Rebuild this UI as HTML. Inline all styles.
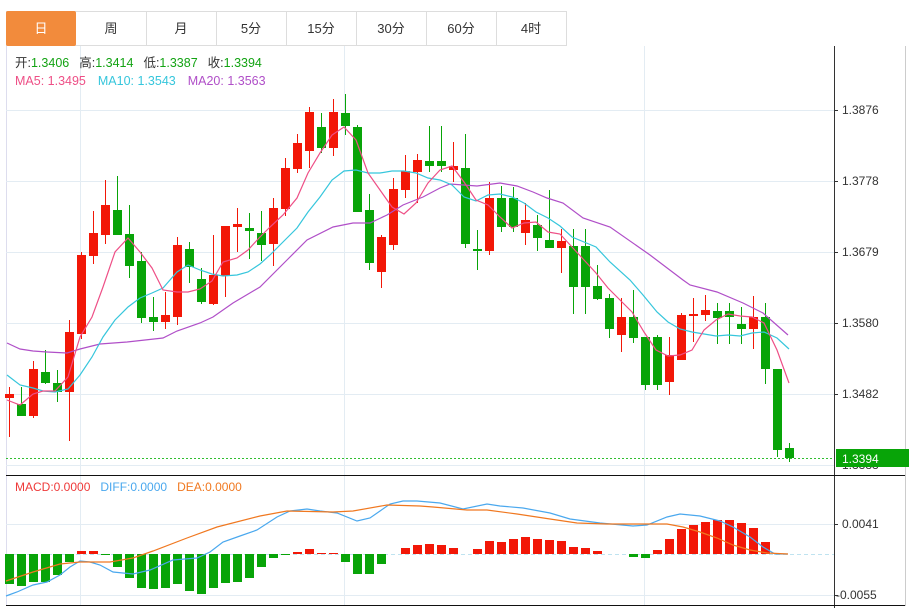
<!DOCTYPE html>
<html><head><meta charset="utf-8"><style>
body{margin:0;background:#fff;width:909px;height:608px;overflow:hidden;font-family:"Liberation Sans","Noto Sans CJK SC",sans-serif}
</style></head><body>
<svg width="909" height="608" xmlns="http://www.w3.org/2000/svg" style="position:absolute;left:0;top:0;font-family:'Liberation Sans','Noto Sans CJK SC',sans-serif">
<!-- tabs -->
<rect x="6.5" y="11.5" width="560" height="34" fill="#fff" stroke="#ddd"/>
<rect x="6" y="11" width="70" height="35" fill="#f28b3c" rx="2"/>
<g stroke="#ddd"><line x1="146.5" y1="11" x2="146.5" y2="45"/><line x1="216.5" y1="11" x2="216.5" y2="45"/><line x1="286.5" y1="11" x2="286.5" y2="45"/><line x1="356.5" y1="11" x2="356.5" y2="45"/><line x1="426.5" y1="11" x2="426.5" y2="45"/><line x1="496.5" y1="11" x2="496.5" y2="45"/></g>
<g font-size="13" text-anchor="middle" fill="#333"><text x="41" y="33" fill="#fff">日</text><text x="111" y="33">周</text><text x="181" y="33">月</text><text x="251" y="33">5分</text><text x="321" y="33">15分</text><text x="391" y="33">30分</text><text x="461" y="33">60分</text><text x="531" y="33">4时</text></g>
<!-- frame -->
<line x1="6.5" y1="46" x2="6.5" y2="606" stroke="#dde"/>
<line x1="905.5" y1="46" x2="905.5" y2="606" stroke="#ccc"/>
<!-- grids -->
<g stroke="#e3ecf3"><line x1="6" y1="110.5" x2="834" y2="110.5"/><line x1="6" y1="181.5" x2="834" y2="181.5"/><line x1="6" y1="252.5" x2="834" y2="252.5"/><line x1="6" y1="323.5" x2="834" y2="323.5"/><line x1="6" y1="394.5" x2="834" y2="394.5"/><line x1="6" y1="465.5" x2="834" y2="465.5"/><line x1="6" y1="524.5" x2="834" y2="524.5"/><line x1="6" y1="595.5" x2="834" y2="595.5"/>
<line x1="80.5" y1="46" x2="80.5" y2="606"/><line x1="344.5" y1="46" x2="344.5" y2="606"/><line x1="644.5" y1="46" x2="644.5" y2="606"/></g>
<line x1="834.5" y1="46" x2="834.5" y2="608" stroke="#333"/>
<line x1="6" y1="475.5" x2="905" y2="475.5" stroke="#111"/>
<line x1="6" y1="605.5" x2="905" y2="605.5" stroke="#111"/>
<!-- axis labels -->
<g font-size="12" fill="#333"><text x="842" y="114">1.3876</text><text x="842" y="185">1.3778</text><text x="842" y="256">1.3679</text><text x="842" y="327">1.3580</text><text x="842" y="398">1.3482</text><text x="842" y="469">1.3383</text><text x="842" y="528">0.0041</text><text x="836" y="599">-0.0055</text></g>
<g stroke="#333"><line x1="834" y1="110.5" x2="838" y2="110.5"/><line x1="834" y1="181.5" x2="838" y2="181.5"/><line x1="834" y1="252.5" x2="838" y2="252.5"/><line x1="834" y1="323.5" x2="838" y2="323.5"/><line x1="834" y1="394.5" x2="838" y2="394.5"/><line x1="834" y1="524.5" x2="838" y2="524.5"/><line x1="834" y1="595.5" x2="838" y2="595.5"/></g>
<!-- legend -->
<text x="15" y="67" font-size="12.5"><tspan fill="#333">开:</tspan><tspan fill="#13a313">1.3406</tspan><tspan fill="#333" dx="10">高:</tspan><tspan fill="#13a313">1.3414</tspan><tspan fill="#333" dx="10">低:</tspan><tspan fill="#13a313">1.3387</tspan><tspan fill="#333" dx="10">收:</tspan><tspan fill="#13a313">1.3394</tspan></text>
<text x="15" y="85" font-size="12.5"><tspan fill="#ee4f86">MA5: 1.3495</tspan><tspan fill="#36c6dc" dx="12">MA10: 1.3543</tspan><tspan fill="#b04fc8" dx="12">MA20: 1.3563</tspan></text>
<text x="15" y="491" font-size="12"><tspan fill="#ee3a3a">MACD:0.0000</tspan><tspan fill="#4aa8ee" dx="10">DIFF:0.0000</tspan><tspan fill="#f07820" dx="10">DEA:0.0000</tspan></text>
<!-- candles -->
<g id="c"></g>
<g>
<g stroke-width="1">
<line x1="9.5" y1="387" x2="9.5" y2="437" stroke="#f21707"/><rect x="5" y="394" width="9" height="4" fill="#f21707"/>
<line x1="21.5" y1="387" x2="21.5" y2="416" stroke="#08a408"/><rect x="17" y="404" width="9" height="12" fill="#08a408"/>
<line x1="33.5" y1="361" x2="33.5" y2="418" stroke="#f21707"/><rect x="29" y="369" width="9" height="47" fill="#f21707"/>
<line x1="45.5" y1="350" x2="45.5" y2="384" stroke="#08a408"/><rect x="41" y="372" width="9" height="11" fill="#08a408"/>
<line x1="57.5" y1="370" x2="57.5" y2="402" stroke="#08a408"/><rect x="53" y="383" width="9" height="9" fill="#08a408"/>
<line x1="69.5" y1="320" x2="69.5" y2="441" stroke="#f21707"/><rect x="65" y="332" width="9" height="60" fill="#f21707"/>
<line x1="81.5" y1="252" x2="81.5" y2="339" stroke="#f21707"/><rect x="77" y="255" width="9" height="79" fill="#f21707"/>
<line x1="93.5" y1="211" x2="93.5" y2="264" stroke="#f21707"/><rect x="89" y="233" width="9" height="23" fill="#f21707"/>
<line x1="105.5" y1="180" x2="105.5" y2="244" stroke="#f21707"/><rect x="101" y="205" width="9" height="30" fill="#f21707"/>
<line x1="117.5" y1="176" x2="117.5" y2="235" stroke="#08a408"/><rect x="113" y="210" width="9" height="25" fill="#08a408"/>
<line x1="129.5" y1="205" x2="129.5" y2="278" stroke="#08a408"/><rect x="125" y="234" width="9" height="32" fill="#08a408"/>
<line x1="141.5" y1="252" x2="141.5" y2="323" stroke="#08a408"/><rect x="137" y="261" width="9" height="57" fill="#08a408"/>
<line x1="153.5" y1="297" x2="153.5" y2="331" stroke="#08a408"/><rect x="149" y="317" width="9" height="5" fill="#08a408"/>
<line x1="165.5" y1="292" x2="165.5" y2="329" stroke="#f21707"/><rect x="161" y="315" width="9" height="7" fill="#f21707"/>
<line x1="177.5" y1="237" x2="177.5" y2="325" stroke="#f21707"/><rect x="173" y="245" width="9" height="72" fill="#f21707"/>
<line x1="189.5" y1="242" x2="189.5" y2="283" stroke="#08a408"/><rect x="185" y="249" width="9" height="18" fill="#08a408"/>
<line x1="201.5" y1="268" x2="201.5" y2="304" stroke="#08a408"/><rect x="197" y="279" width="9" height="23" fill="#08a408"/>
<line x1="213.5" y1="235" x2="213.5" y2="305" stroke="#f21707"/><rect x="209" y="275" width="9" height="29" fill="#f21707"/>
<line x1="225.5" y1="226" x2="225.5" y2="297" stroke="#f21707"/><rect x="221" y="226" width="9" height="50" fill="#f21707"/>
<line x1="237.5" y1="208" x2="237.5" y2="252" stroke="#f21707"/><rect x="233" y="224" width="9" height="3" fill="#f21707"/>
<line x1="249.5" y1="213" x2="249.5" y2="259" stroke="#08a408"/><rect x="245" y="228" width="9" height="3" fill="#08a408"/>
<line x1="261.5" y1="211" x2="261.5" y2="261" stroke="#08a408"/><rect x="257" y="233" width="9" height="12" fill="#08a408"/>
<line x1="273.5" y1="198" x2="273.5" y2="266" stroke="#f21707"/><rect x="269" y="208" width="9" height="36" fill="#f21707"/>
<line x1="285.5" y1="158" x2="285.5" y2="216" stroke="#f21707"/><rect x="281" y="168" width="9" height="41" fill="#f21707"/>
<line x1="297.5" y1="134" x2="297.5" y2="173" stroke="#f21707"/><rect x="293" y="143" width="9" height="26" fill="#f21707"/>
<line x1="309.5" y1="107" x2="309.5" y2="168" stroke="#f21707"/><rect x="305" y="112" width="9" height="39" fill="#f21707"/>
<line x1="321.5" y1="113" x2="321.5" y2="153" stroke="#08a408"/><rect x="317" y="127" width="9" height="21" fill="#08a408"/>
<line x1="333.5" y1="99" x2="333.5" y2="156" stroke="#f21707"/><rect x="329" y="112" width="9" height="36" fill="#f21707"/>
<line x1="345.5" y1="94" x2="345.5" y2="135" stroke="#08a408"/><rect x="341" y="113" width="9" height="13" fill="#08a408"/>
<line x1="357.5" y1="125" x2="357.5" y2="212" stroke="#08a408"/><rect x="353" y="127" width="9" height="85" fill="#08a408"/>
<line x1="369.5" y1="194" x2="369.5" y2="270" stroke="#08a408"/><rect x="365" y="210" width="9" height="53" fill="#08a408"/>
<line x1="381.5" y1="235" x2="381.5" y2="288" stroke="#f21707"/><rect x="377" y="237" width="9" height="35" fill="#f21707"/>
<line x1="393.5" y1="178" x2="393.5" y2="250" stroke="#f21707"/><rect x="389" y="189" width="9" height="56" fill="#f21707"/>
<line x1="405.5" y1="155" x2="405.5" y2="198" stroke="#f21707"/><rect x="401" y="171" width="9" height="19" fill="#f21707"/>
<line x1="417.5" y1="154" x2="417.5" y2="203" stroke="#f21707"/><rect x="413" y="160" width="9" height="12" fill="#f21707"/>
<line x1="429.5" y1="126" x2="429.5" y2="172" stroke="#08a408"/><rect x="425" y="161" width="9" height="5" fill="#08a408"/>
<line x1="441.5" y1="126" x2="441.5" y2="172" stroke="#08a408"/><rect x="437" y="161" width="9" height="5" fill="#08a408"/>
<line x1="453.5" y1="142" x2="453.5" y2="182" stroke="#f21707"/><rect x="449" y="166" width="9" height="4" fill="#f21707"/>
<line x1="465.5" y1="134" x2="465.5" y2="248" stroke="#08a408"/><rect x="461" y="168" width="9" height="76" fill="#08a408"/>
<line x1="477.5" y1="230" x2="477.5" y2="270" stroke="#08a408"/><rect x="473" y="249" width="9" height="2" fill="#08a408"/>
<line x1="489.5" y1="182" x2="489.5" y2="255" stroke="#f21707"/><rect x="485" y="198" width="9" height="53" fill="#f21707"/>
<line x1="501.5" y1="186" x2="501.5" y2="232" stroke="#08a408"/><rect x="497" y="198" width="9" height="29" fill="#08a408"/>
<line x1="513.5" y1="187" x2="513.5" y2="232" stroke="#08a408"/><rect x="509" y="198" width="9" height="29" fill="#08a408"/>
<line x1="525.5" y1="203" x2="525.5" y2="245" stroke="#f21707"/><rect x="521" y="220" width="9" height="13" fill="#f21707"/>
<line x1="537.5" y1="215" x2="537.5" y2="251" stroke="#08a408"/><rect x="533" y="225" width="9" height="13" fill="#08a408"/>
<line x1="549.5" y1="190" x2="549.5" y2="248" stroke="#08a408"/><rect x="545" y="240" width="9" height="8" fill="#08a408"/>
<line x1="561.5" y1="229" x2="561.5" y2="273" stroke="#f21707"/><rect x="557" y="241" width="9" height="7" fill="#f21707"/>
<line x1="573.5" y1="229" x2="573.5" y2="314" stroke="#08a408"/><rect x="569" y="246" width="9" height="41" fill="#08a408"/>
<line x1="585.5" y1="229" x2="585.5" y2="314" stroke="#08a408"/><rect x="581" y="246" width="9" height="41" fill="#08a408"/>
<line x1="597.5" y1="265" x2="597.5" y2="300" stroke="#08a408"/><rect x="593" y="286" width="9" height="13" fill="#08a408"/>
<line x1="609.5" y1="294" x2="609.5" y2="338" stroke="#08a408"/><rect x="605" y="298" width="9" height="31" fill="#08a408"/>
<line x1="621.5" y1="298" x2="621.5" y2="352" stroke="#f21707"/><rect x="617" y="317" width="9" height="18" fill="#f21707"/>
<line x1="633.5" y1="290" x2="633.5" y2="343" stroke="#08a408"/><rect x="629" y="317" width="9" height="21" fill="#08a408"/>
<line x1="645.5" y1="337" x2="645.5" y2="390" stroke="#08a408"/><rect x="641" y="337" width="9" height="48" fill="#08a408"/>
<line x1="657.5" y1="335" x2="657.5" y2="390" stroke="#08a408"/><rect x="653" y="337" width="9" height="48" fill="#08a408"/>
<line x1="669.5" y1="337" x2="669.5" y2="395" stroke="#f21707"/><rect x="665" y="355" width="9" height="27" fill="#f21707"/>
<line x1="681.5" y1="313" x2="681.5" y2="360" stroke="#f21707"/><rect x="677" y="315" width="9" height="45" fill="#f21707"/>
<line x1="693.5" y1="298" x2="693.5" y2="342" stroke="#f21707"/><rect x="689" y="314" width="9" height="2" fill="#f21707"/>
<line x1="705.5" y1="295" x2="705.5" y2="321" stroke="#f21707"/><rect x="701" y="310" width="9" height="5" fill="#f21707"/>
<line x1="717.5" y1="303" x2="717.5" y2="344" stroke="#08a408"/><rect x="713" y="311" width="9" height="7" fill="#08a408"/>
<line x1="729.5" y1="303" x2="729.5" y2="344" stroke="#08a408"/><rect x="725" y="311" width="9" height="6" fill="#08a408"/>
<line x1="741.5" y1="307" x2="741.5" y2="344" stroke="#08a408"/><rect x="737" y="324" width="9" height="5" fill="#08a408"/>
<line x1="753.5" y1="296" x2="753.5" y2="349" stroke="#f21707"/><rect x="749" y="317" width="9" height="12" fill="#f21707"/>
<line x1="765.5" y1="303" x2="765.5" y2="384" stroke="#08a408"/><rect x="761" y="317" width="9" height="52" fill="#08a408"/>
<line x1="777.5" y1="369" x2="777.5" y2="457" stroke="#08a408"/><rect x="773" y="369" width="9" height="81" fill="#08a408"/>
<line x1="789.5" y1="443" x2="789.5" y2="462" stroke="#08a408"/><rect x="785" y="448" width="9" height="10" fill="#08a408"/>
</g>
<!-- MAs -->
<g fill="none" stroke-width="1.2">
<polyline stroke="#b04fc8" points="7,343 20,349 33,351 47,352 67,353 80,349 100,344 127,342 163,338 177,331 200,323 213,317 233,303 260,287 280,267 287,260 307,240 333,227 353,223 370,223 387,215 403,205 423,197 440,188 450,184 477,186 500,183 517,186 533,192 547,198 563,203 583,218 610,227 650,255 683,280 690,285 717,292 743,303 763,313 788,335"/>
<polyline stroke="#36c6dc" points="7,375 20,385 33,388 43,391 55,392 68,389 80,375 92,357 103,337 115,320 128,307 140,298 152,293 163,288 177,272 188,265 200,270 212,274 223,276 237,275 248,272 260,264 270,255 283,242 297,228 308,212 320,197 332,180 344,171 356,170 368,173 380,173 392,171 404,171 416,173 428,178 440,180 452,185 464,197 476,201 488,195 500,194 512,197 524,203 536,212 548,218 560,226 572,237 584,242 596,247 610,262 630,280 643,295 657,312 668,322 680,329 692,332 704,334 716,336 728,335 740,336 752,333 764,332 777,338 789,349"/>
<polyline stroke="#ee4f86" points="7,400 20,405 33,394 43,391 55,391 68,377 80,337 92,317 103,287 115,252 128,238 140,252 152,268 163,290 177,292 188,292 200,289 212,281 223,262 237,258 248,250 260,237 270,227 283,215 297,198 308,173 320,153 332,135 344,127 356,140 368,173 380,190 392,207 404,214 416,203 428,183 440,170 452,166 464,182 476,200 488,205 500,217 512,228 524,223 536,222 548,232 560,234 572,247 584,260 596,273 608,288 620,300 632,312 644,332 656,350 668,356 680,355 692,350 704,330 716,320 728,314 740,316 752,317 764,323 777,350 789,383"/>
</g>
<!-- price line -->
<line x1="6" y1="458.5" x2="834" y2="458.5" stroke="#2fbf2f" stroke-dasharray="2,2"/>
<rect x="836" y="449" width="76" height="18" fill="#08a408"/>
<text x="842" y="463" font-size="12" fill="#fff">1.3394</text>
<!-- MACD -->
<line x1="6" y1="554.5" x2="834" y2="554.5" stroke="#bfe3f0" stroke-dasharray="4,3"/>
<g fill="#08a408">
<rect x="5" y="554" width="9" height="30"/><rect x="17" y="554" width="9" height="32"/><rect x="29" y="554" width="9" height="28"/><rect x="41" y="554" width="9" height="28"/><rect x="53" y="554" width="9" height="21"/><rect x="65" y="554" width="9" height="8"/>
<rect x="101" y="554" width="9" height="1"/><rect x="113" y="554" width="9" height="13"/><rect x="125" y="554" width="9" height="24"/><rect x="137" y="554" width="9" height="34"/><rect x="149" y="554" width="9" height="35"/><rect x="161" y="554" width="9" height="34"/><rect x="173" y="554" width="9" height="30"/><rect x="185" y="554" width="9" height="37"/><rect x="197" y="554" width="9" height="40"/><rect x="209" y="554" width="9" height="34"/><rect x="221" y="554" width="9" height="29"/><rect x="233" y="554" width="9" height="28"/><rect x="245" y="554" width="9" height="24"/><rect x="257" y="554" width="9" height="13"/><rect x="269" y="554" width="9" height="4"/><rect x="281" y="554" width="9" height="1"/>
<rect x="341" y="554" width="9" height="8"/><rect x="353" y="554" width="9" height="20"/><rect x="365" y="554" width="9" height="20"/><rect x="377" y="554" width="9" height="10"/>
<rect x="629" y="554" width="9" height="3"/><rect x="641" y="554" width="9" height="4"/>
</g>
<g fill="#f21707">
<rect x="77" y="551" width="9" height="3"/><rect x="89" y="551" width="9" height="3"/>
<rect x="293" y="552" width="9" height="2"/><rect x="305" y="549" width="9" height="5"/><rect x="317" y="553" width="9" height="1"/><rect x="329" y="553" width="9" height="1"/>
<rect x="401" y="548" width="9" height="6"/><rect x="413" y="545" width="9" height="9"/><rect x="425" y="544" width="9" height="10"/><rect x="437" y="545" width="9" height="9"/><rect x="449" y="548" width="9" height="6"/>
<rect x="473" y="549" width="9" height="5"/><rect x="485" y="541" width="9" height="13"/><rect x="497" y="542" width="9" height="12"/><rect x="509" y="539" width="9" height="15"/><rect x="521" y="537" width="9" height="17"/><rect x="533" y="539" width="9" height="15"/><rect x="545" y="540" width="9" height="14"/><rect x="557" y="541" width="9" height="13"/><rect x="569" y="547" width="9" height="7"/><rect x="581" y="548" width="9" height="6"/><rect x="593" y="551" width="9" height="3"/>
<rect x="653" y="550" width="9" height="4"/><rect x="665" y="539" width="9" height="15"/><rect x="677" y="529" width="9" height="25"/><rect x="689" y="525" width="9" height="29"/><rect x="701" y="522" width="9" height="32"/><rect x="713" y="520" width="9" height="34"/><rect x="725" y="520" width="9" height="34"/><rect x="737" y="523" width="9" height="31"/><rect x="749" y="528" width="9" height="26"/><rect x="761" y="542" width="9" height="12"/>
</g>
<g fill="none" stroke-width="1.2">
<polyline stroke="#4aa8ee" points="6,596 17,592 33,585 47,582 60,575 70,567 80,561 90,562 100,565 113,572 133,574 150,570 173,560 197,558 210,552 223,542 240,536 257,530 277,517 290,511 307,509 320,511 337,513 357,521 370,518 390,504 403,501 417,501 440,503 463,509 487,504 500,506 523,508 550,513 570,519 600,523 633,526 647,525 667,517 680,514 700,516 720,521 733,527 750,537 763,547 775,554 788,554"/>
<polyline stroke="#f07820" points="6,581 33,572 60,564 80,562 110,562 133,558 153,551 187,538 217,527 260,516 287,511 333,512 353,511 387,505 420,506 433,507 467,510 487,510 517,514 550,519 577,523 607,524 653,524 667,524 683,527 700,532 717,538 733,545 750,550 767,553 788,554"/>
</g>
</g>
</svg>
</body></html>
